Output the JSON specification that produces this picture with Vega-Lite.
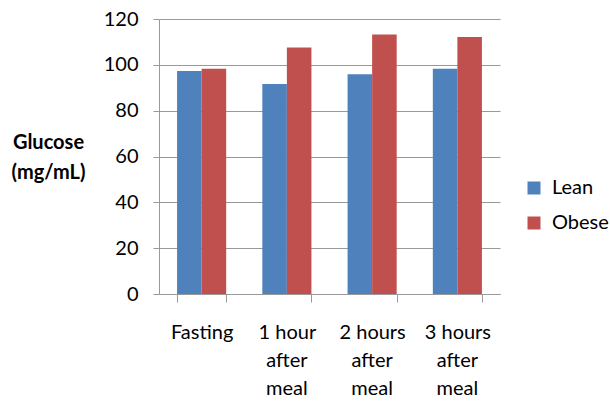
{
  "$schema": "https://vega.github.io/schema/vega-lite/v6.json",
  "width": 341,
  "height": 275,
  "autosize": "none",
  "padding": {"left": 159, "top": 19, "right": 110, "bottom": 111},
  "background": "white",
  "config": {"view": {"stroke": null}, "font": "Lato"},
  "data": {
    "values": [
      {"time": "Fasting", "group": "Lean", "glucose": 97.3},
      {"time": "Fasting", "group": "Obese", "glucose": 98.3},
      {"time": "1 hour after meal", "group": "Lean", "glucose": 91.6},
      {"time": "1 hour after meal", "group": "Obese", "glucose": 107.6},
      {"time": "2 hours after meal", "group": "Lean", "glucose": 95.9},
      {"time": "2 hours after meal", "group": "Obese", "glucose": 113.2},
      {"time": "3 hours after meal", "group": "Lean", "glucose": 98.3},
      {"time": "3 hours after meal", "group": "Obese", "glucose": 112.1}
    ]
  },
  "encoding": {
    "y": {
      "field": "glucose",
      "type": "quantitative",
      "scale": {"domain": [0, 120], "nice": false},
      "axis": {
        "values": [0, 20, 40, 60, 80, 100, 120],
        "title": ["Glucose", "(mg/mL)"],
        "titleAngle": 0,
        "titleFontSize": 20,
        "titleFontWeight": "bold",
        "titleLineHeight": 30,
        "titleAlign": "center",
        "titleBaseline": "middle",
        "titleX": -111,
        "titleY": 123,
        "titleColor": "black",
        "labelFontSize": 20,
        "labelColor": "black",
        "labelPadding": 15,
        "tickSize": 6,
        "tickColor": "#999",
        "domainColor": "#999",
        "gridColor": "#999",
        "grid": true
      }
    }
  },
  "layer": [
    {
      "mark": {"type": "bar"},
      "encoding": {
        "x": {
          "field": "time",
          "type": "nominal",
          "sort": ["Fasting", "1 hour after meal", "2 hours after meal", "3 hours after meal"],
          "scale": {"paddingInner": 0.424, "paddingOuter": 0.212},
          "axis": {
            "orient": "bottom",
            "title": null,
            "labelAngle": 0,
            "labelAlign": "center",
            "labelOverlap": false,
            "labelExpr": "datum.label == 'Fasting' ? 'Fasting' : replace(datum.label, ' after meal', '')",
            "labelFontSize": 20,
            "labelColor": "black",
            "labelBaseline": "top",
            "labelPadding": 20,
            "domainColor": "#999",
            "tickColor": "#999",
            "tickBand": "extent",
            "tickSize": 8,
            "grid": false
          }
        },
        "xOffset": {"field": "group", "sort": ["Lean", "Obese"]},
        "color": {
          "field": "group",
          "type": "nominal",
          "scale": {"domain": ["Lean", "Obese"], "range": ["#4F81BD", "#C0504D"]},
          "legend": {
            "title": null,
            "orient": "none",
            "legendX": 365,
            "legendY": 159,
            "symbolType": "square",
            "symbolSize": 169,
            "symbolStrokeWidth": 0,
            "symbolOpacity": 1,
            "labelFontSize": 20,
            "labelColor": "black",
            "labelOffset": 8,
            "rowPadding": 15
          }
        }
      }
    },
    {
      "mark": {"type": "bar", "opacity": 0},
      "encoding": {
        "x": {
          "field": "time",
          "type": "nominal",
          "sort": ["Fasting", "1 hour after meal", "2 hours after meal", "3 hours after meal"],
          "axis": {
            "orient": "bottom",
            "title": null,
            "labelAngle": 0,
            "labelAlign": "center",
            "labelOverlap": false,
            "labelExpr": "datum.label == 'Fasting' ? '' : 'after'",
            "labelFontSize": 20,
            "labelColor": "black",
            "labelBaseline": "top",
            "labelPadding": 48,
            "domain": false,
            "tickOpacity": 0,
            "tickSize": 8,
            "grid": false
          }
        }
      }
    },
    {
      "mark": {"type": "bar", "opacity": 0},
      "encoding": {
        "x": {
          "field": "time",
          "type": "nominal",
          "sort": ["Fasting", "1 hour after meal", "2 hours after meal", "3 hours after meal"],
          "axis": {
            "orient": "bottom",
            "title": null,
            "labelAngle": 0,
            "labelAlign": "center",
            "labelOverlap": false,
            "labelExpr": "datum.label == 'Fasting' ? '' : 'meal'",
            "labelFontSize": 20,
            "labelColor": "black",
            "labelBaseline": "top",
            "labelPadding": 76,
            "domain": false,
            "tickOpacity": 0,
            "tickSize": 8,
            "grid": false
          }
        }
      }
    }
  ],
  "resolve": {"axis": {"x": "independent"}}
}
